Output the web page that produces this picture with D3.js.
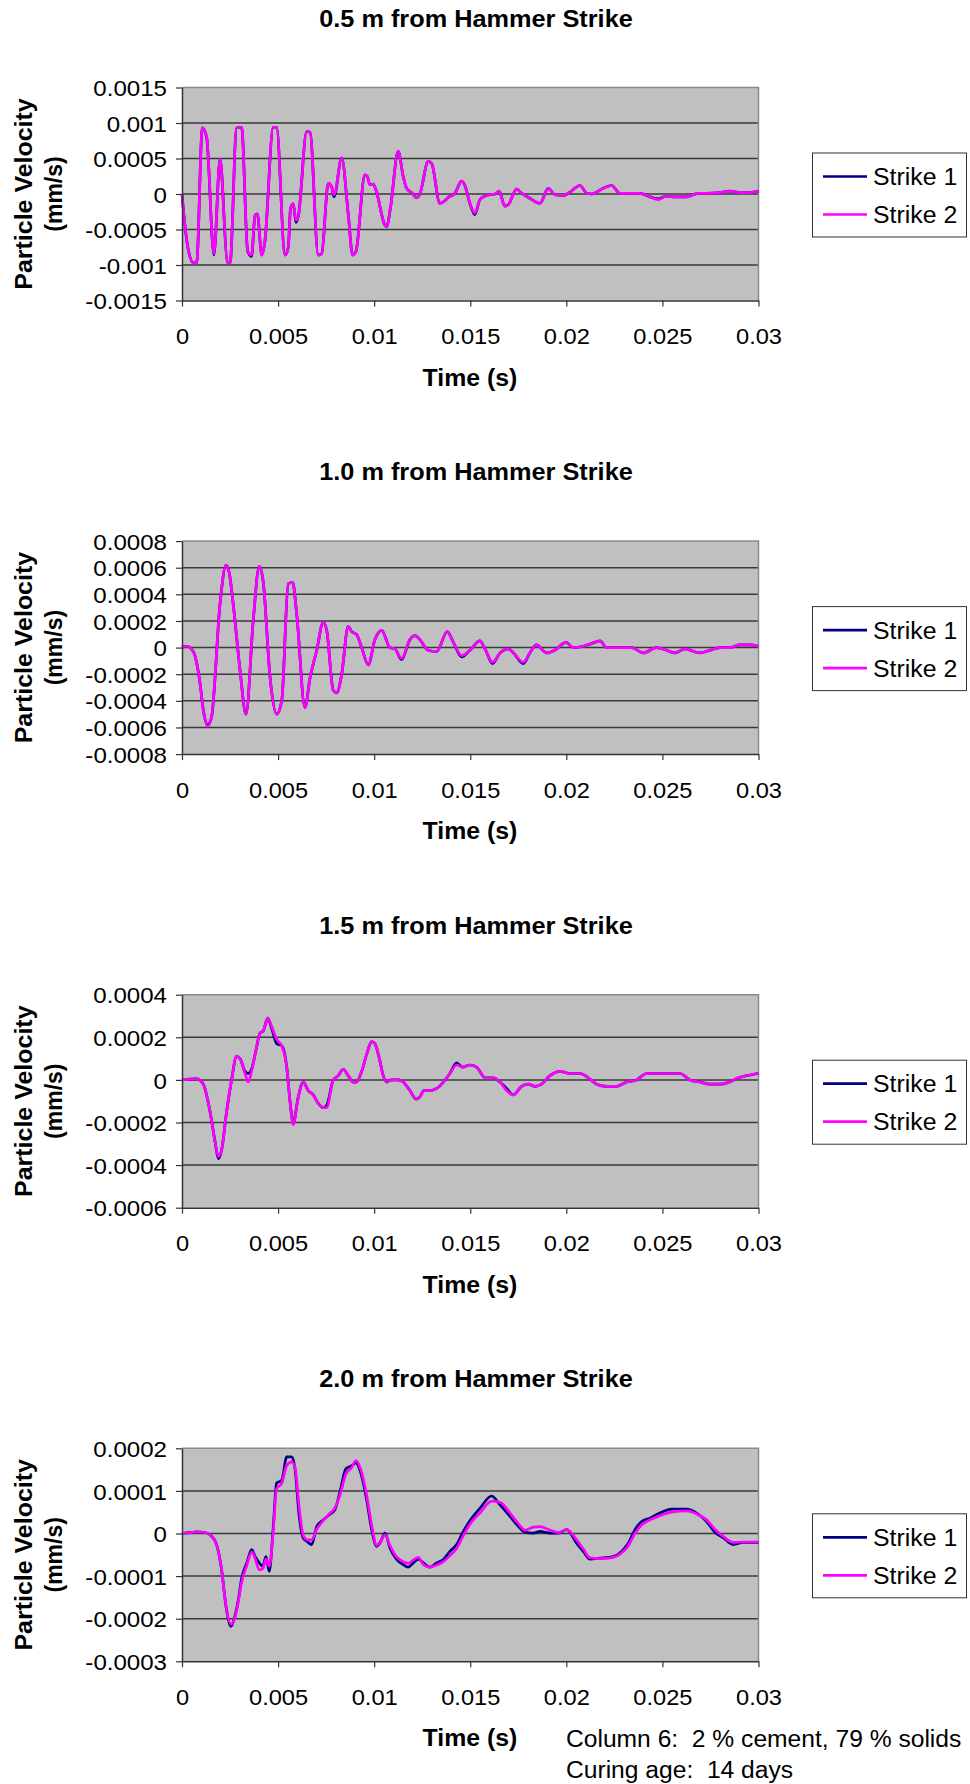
<!DOCTYPE html>
<html>
<head>
<meta charset="utf-8">
<script src="https://cdn.jsdelivr.net/npm/d3@7"></script>
<style>
  body { margin: 0; background: #fff; }
  svg { display: block; font-family: "Liberation Sans", Arial, sans-serif; }
</style>
</head>
<body>
<div id="graphic"></div>
<script>
// time values are in ms, velocities in 1e-5 mm/s
var titles = ["0.5 m from Hammer Strike", "1.0 m from Hammer Strike", "1.5 m from Hammer Strike", "2.0 m from Hammer Strike"];
var seriesNames = ["Strike 1", "Strike 2"];
var seriesColors = ["#000080", "#ff00ff"];

var xTicks = [0, 0.005, 0.01, 0.015, 0.02, 0.025, 0.03];
var xTickLabels = ["0", "0.005", "0.01", "0.015", "0.02", "0.025", "0.03"];

var yTicks05 = [0.0015, 0.001, 0.0005, 0, -0.0005, -0.001, -0.0015];
var yLabels05 = ["0.0015", "0.001", "0.0005", "0", "-0.0005", "-0.001", "-0.0015"];
var yTicks10 = [0.0008, 0.0006, 0.0004, 0.0002, 0, -0.0002, -0.0004, -0.0006, -0.0008];
var yLabels10 = ["0.0008", "0.0006", "0.0004", "0.0002", "0", "-0.0002", "-0.0004", "-0.0006", "-0.0008"];
var yTicks15 = [0.0004, 0.0002, 0, -0.0002, -0.0004, -0.0006];
var yLabels15 = ["0.0004", "0.0002", "0", "-0.0002", "-0.0004", "-0.0006"];
var yTicks20 = [0.0002, 0.0001, 0, -0.0001, -0.0002, -0.0003];
var yLabels20 = ["0.0002", "0.0001", "0", "-0.0001", "-0.0002", "-0.0003"];

var time05 = [0, 0.16, 0.33, 0.6, 0.76, 1.06, 1.28, 1.66, 1.98, 2.36,
  2.5, 2.84, 3.1, 3.42, 3.62, 3.8, 3.92, 4.15, 4.3, 4.75,
  4.92, 5.36, 5.53, 5.65, 5.79, 5.93, 6.05, 6.49, 6.66, 7.09,
  7.27, 7.61, 7.79, 7.91, 8.31, 8.65, 8.88, 9.05, 9.52, 9.64,
  9.78, 9.95, 10.09, 10.56, 10.65, 10.85, 11.25, 11.51, 11.69, 11.95,
  12.2, 12.38, 12.81, 12.99, 13.42, 13.6, 13.85, 14.2, 14.55, 14.72,
  14.98, 15.24, 15.5, 15.77, 16.0, 16.3, 16.5, 16.8, 16.98, 17.41,
  17.67, 18.1, 18.63, 19.06, 19.4, 19.85, 20.1, 20.71, 21.06, 21.3,
  21.92, 22.35, 22.79, 23.3, 23.83, 24.35, 24.78, 25.2, 25.56, 26.25,
  26.86, 27.3, 28.0, 28.5, 29.03, 29.55, 30.0];
var strike1_05 = [0, -46, -79, -97, -97, 93, 80, -86, 49, -96,
  -97, 93, 94, -81, -88, -30, -28, -86, -70, 94,
  94, -86, -75, -20, -14, -40, -32, 88, 87, -86,
  -84, 15, 10, -4, 51, -28, -86, -81, 27, 25,
  13, 14, 6, -44, -46, -19, 60, 25, 8, 2,
  -5, 0, 46, 43, -13, -11, -5, 1, 18, 12,
  -13, -29, -8, -3, -1, 0, 4, -17, -15, 7,
  1, -6, -13, 8, -1, -2, 1, 12, 1, 0,
  8, 12, 1, 1, 1, -4, -7, -3, -4, -4,
  1, 1, 2, 4, 2, 2, 4];
var strike2_05 = [0, -46, -79, -97, -97, 93, 81, -84, 49, -96,
  -97, 93, 94, -81, -86, -30, -28, -86, -70, 94,
  94, -86, -75, -20, -14, -37, -32, 88, 87, -86,
  -84, 15, 10, -1, 51, -28, -86, -81, 27, 25,
  13, 14, 6, -44, -46, -19, 60, 25, 8, 2,
  -5, 0, 46, 43, -13, -11, -5, 1, 18, 12,
  -13, -27, -8, -3, -1, 0, 4, -17, -15, 7,
  1, -6, -13, 8, -1, -2, 1, 12, 1, 0,
  8, 12, 1, 1, 1, -4, -8, -3, -4, -4,
  1, 1, 2, 4, 2, 2, 4];

var time10 = [0, 0.24, 0.59, 0.94, 1.11, 1.34, 1.54, 1.98, 2.29, 2.46,
  2.67, 3.02, 3.33, 3.71, 4.02, 4.23, 4.58, 4.93, 5.19, 5.53,
  5.76, 5.97, 6.4, 6.66, 7.01, 7.35, 7.53, 7.87, 8.05, 8.31,
  8.65, 8.83, 9.08, 9.35, 9.69, 10.04, 10.39, 10.82, 11.08, 11.43,
  11.86, 12.12, 12.38, 12.81, 13.25, 13.8, 14.12, 14.55, 14.98, 15.5,
  15.77, 16.16, 16.55, 16.98, 17.25, 17.76, 18.1, 18.45, 18.97, 19.4,
  19.98, 20.36, 20.88, 21.3, 21.75, 22.1, 22.79, 23.4, 24.0, 24.7,
  25.22, 25.65, 26.17, 26.95, 27.47, 27.99, 28.5, 29.03, 29.55, 30.0];
var strike1_10 = [0, 1, -3, -27, -47, -58, -52, 33, 62, 56,
  32, -17, -50, 21, 61, 49, -22, -50, -40, 48,
  49, 25, -45, -23, -2, 19, 13, -32, -34, -20,
  16, 12, 10, 0, -13, 6, 13, 0, -1, -9,
  6, 9, 6, -2, -3, 12, 4, -7, -2, 5,
  -1, -12, -4, -1, -4, -12, -4, 2, -4, -2,
  4, 0, 1, 3, 5, 0, 0, 0, -4, 0,
  -2, -4, -1, -4, -2, 0, 0, 2, 2, 1];
var strike2_10 = [0, 1, -3, -27, -47, -59, -52, 33, 62, 56,
  32, -17, -50, 21, 61, 49, -22, -50, -40, 48,
  49, 25, -45, -23, -2, 19, 13, -32, -34, -20,
  16, 12, 10, 0, -13, 6, 13, 0, -1, -8,
  6, 9, 6, -2, -3, 12, 4, -6, -2, 5,
  -1, -11, -4, -1, -4, -11, -4, 2, -4, -2,
  4, 0, 1, 3, 5, 0, 0, 0, -4, 0,
  -2, -4, -1, -4, -2, 0, 0, 2, 2, 1];

var time15 = [0, 0.76, 1.11, 1.46, 1.72, 1.89, 2.06, 2.32, 2.58, 2.84,
  3.02, 3.28, 3.45, 3.62, 3.85, 4.06, 4.23, 4.46, 4.67, 4.93,
  5.19, 5.45, 5.62, 5.79, 6.05, 6.31, 6.57, 6.83, 7.09, 7.35,
  7.53, 7.87, 8.13, 8.39, 8.65, 8.91, 9.08, 9.35, 9.61, 9.87,
  10.04, 10.27, 10.47, 10.65, 10.91, 11.25, 11.51, 11.86, 12.18, 12.38,
  12.59, 12.9, 13.25, 13.6, 13.94, 14.29, 14.6, 14.98, 15.33, 15.77,
  16.2, 16.55, 16.89, 17.24, 17.67, 18.02, 18.37, 18.71, 19.15, 19.67,
  20.19, 20.71, 21.14, 21.58, 22.1, 22.62, 23.13, 23.66, 24.18, 24.61,
  25.05, 25.56, 25.91, 26.43, 26.95, 27.47, 28.08, 28.5, 28.95, 29.38, 30.0];
var strike1_15 = [0, 0.5, -2, -15, -29, -37, -33, -15, 0, 11,
  10, 4, 3, 5, 14, 22, 23, 29, 24, 17,
  16, 6, -10, -20, -8, -1, -5, -7, -11, -13,
  -12, 0, 2, 5, 2, -1, -1, 4, 12, 18,
  17, 10, 2, -1, 0, 0, -1, -5, -9, -8,
  -5, -5, -4, -1, 3, 8, 6, 7, 6, 1,
  1, -1, -4, -7, -3, -2, -3, -2, 2, 4,
  3, 3, 1, -2, -3, -3, -1, 0, 3, 3,
  3, 3, 3, 0, -1, -2, -2, -1, 1, 2, 3];
var strike2_15 = [0, 0.5, -2, -15, -29, -36, -33, -15, 0, 11,
  10, 3, -1, 4, 14, 22, 23, 29, 25, 19,
  16, 6, -10, -21, -8, -1, -5, -7, -11, -13,
  -13, 0, 2, 5, 2, -1, -1, 4, 12, 18,
  17, 10, 2, -1, 0, 0, -1, -5, -9, -8,
  -5, -5, -4, -1, 3, 7, 6, 7, 6, 1,
  1, -1, -5, -7, -3, -2, -3, -2, 2, 4,
  3, 3, 1, -2, -3, -3, -1, 0, 3, 3,
  3, 3, 3, 0, -1, -2, -2, -1, 1, 2, 3];

var time20 = [0, 0.42, 0.76, 1.11, 1.46, 1.8, 2.06, 2.29, 2.55, 2.77,
  2.93, 3.1, 3.37, 3.63, 3.8, 4.02, 4.2, 4.37, 4.54, 4.75,
  4.92, 5.19, 5.45, 5.71, 5.88, 6.1, 6.31, 6.52, 6.75, 7.01,
  7.35, 7.66, 7.96, 8.22, 8.53, 8.83, 9.05, 9.29, 9.61, 9.87,
  10.13, 10.34, 10.56, 10.82, 11.17, 11.51, 11.77, 12.04, 12.3, 12.56,
  12.9, 13.25, 13.6, 13.94, 14.29, 14.64, 14.98, 15.5, 16.11, 16.55,
  17.07, 17.5, 17.85, 18.28, 18.63, 19.15, 19.6, 20.02, 20.54, 20.88,
  21.23, 21.75, 22.44, 22.88, 23.22, 23.57, 23.92, 24.35, 24.87, 25.48,
  26.26, 26.78, 27.3, 27.73, 28.17, 28.68, 29.2, 30.0];
var strike1_20 = [0, 0.2, 0.4, 0.3, -0.3, -2.6, -8.5, -17.1, -21.8, -19.1,
  -15.6, -10.6, -6.9, -3.8, -5.4, -6.9, -7.7, -5.4, -8.9, 1.6,
  11.8, 12.5, 18, 18, 15.2, 4.0, -1.1, -1.9, -2.6, 1.6,
  3.2, 4.4, 5.6, 9.8, 15.2, 15.9, 16.6, 14.4, 7.9, 0.9,
  -3.0, -1.9, 0.1, -3.4, -6.1, -7.3, -7.9, -6.9, -6.0, -6.9,
  -7.9, -6.9, -6.1, -4.2, -2.6, 0.5, 3.0, 5.9, 8.8, 6.7,
  4.0, 1.7, 0.3, 0.1, 0.5, 0.1, 0.1, 0.9, -2.3, -4.2,
  -6.0, -5.8, -5.4, -4.2, -2.3, 0.9, 2.8, 3.6, 4.8, 5.7,
  5.7, 4.8, 2.8, 0.3, -1.0, -2.6, -2.1, -2.1];
var strike2_20 = [0, 0.2, 0.4, 0.3, -0.3, -2.6, -8.5, -17.1, -21.3, -19.5,
  -16.0, -11.5, -7.5, -4.3, -5.8, -8.5, -8.3, -6.0, -7.7, 0.5,
  10.5, 11.8, 16.0, 16.8, 15.5, 6.0, -0.5, -1.5, -1.5, 1.0,
  3.0, 4.6, 6.0, 9.0, 14.0, 15.5, 17.1, 15.2, 9.0, 2.0,
  -2.8, -1.8, -0.3, -2.8, -5.5, -6.6, -7.0, -6.2, -5.6, -7.3,
  -7.9, -7.4, -6.6, -5.2, -3.5, -0.5, 2.2, 4.8, 7.6, 7.3,
  4.8, 2.3, 0.8, 1.5, 1.6, 0.8, 0.2, 0.9, -1.5, -3.6,
  -5.7, -5.9, -5.6, -4.5, -2.9, 0.0, 2.0, 3.2, 4.2, 5.0,
  5.3, 4.6, 3.2, 1.0, -0.7, -2.1, -2.0, -2.0];

var notes = ["Column 6:  2 % cement, 79 % solids", "Curing age:  14 days"];

var width = 970;
var height = 1784;
var plotLeft = 182;
var plotRight = 758.5;
var plotHeight = 213;
var firstTop = 87.5;
var chartStep = 453.6;
var textStretch = 1.08;

var svg = d3.select("#graphic")
  .append("svg")
  .attr("width", width)
  .attr("height", height);

svg.append("rect")
  .attr("width", width)
  .attr("height", height)
  .attr("fill", "#fff");

// the scanned figure is a bit wider than the fonts, stretch texts to match
function widen(sel, k) {
  k = k || textStretch;
  sel.each(function() {
    var w = this.getComputedTextLength();
    d3.select(this)
      .attr("textLength", w * k)
      .attr("lengthAdjust", "spacingAndGlyphs");
  });
}

var charts = [
  {title: titles[0], time: time05, s1: strike1_05, s2: strike2_05, yTicks: yTicks05, yLabels: yLabels05},
  {title: titles[1], time: time10, s1: strike1_10, s2: strike2_10, yTicks: yTicks10, yLabels: yLabels10},
  {title: titles[2], time: time15, s1: strike1_15, s2: strike2_15, yTicks: yTicks15, yLabels: yLabels15},
  {title: titles[3], time: time20, s1: strike1_20, s2: strike2_20, yTicks: yTicks20, yLabels: yLabels20}
];

function toPoints(time, values) {
  return time.map(function(t, k) { return [t / 1000, values[k] * 1e-5]; });
}

function renderChart(c, i) {
  var top = firstTop + i * chartStep;
  var bottom = top + plotHeight;
  var midY = (top + bottom) / 2;

  var xScale = d3.scaleLinear().domain([0, 0.03]).range([plotLeft, plotRight]);
  var yScale = d3.scaleLinear().domain(d3.extent(c.yTicks)).range([bottom, top]);

  var g = svg.append("g");

  g.append("text")
    .attr("x", 476)
    .attr("y", top - 61)
    .attr("text-anchor", "middle")
    .attr("font-weight", "bold")
    .attr("font-size", 23)
    .text(c.title)
    .call(widen, 1.1);

  g.append("rect")
    .attr("x", plotLeft)
    .attr("y", top)
    .attr("width", plotRight - plotLeft)
    .attr("height", plotHeight)
    .attr("fill", "#c0c0c0");

  g.append("g")
    .selectAll("line")
    .data(c.yTicks.slice(1, -1))
    .join("line")
    .attr("x1", plotLeft)
    .attr("x2", plotRight)
    .attr("y1", d => yScale(d))
    .attr("y2", d => yScale(d))
    .attr("stroke", "#3a3a3a")
    .attr("stroke-width", 1.5);

  g.append("path")
    .attr("d", "M" + plotLeft + "," + top + "H" + plotRight + "V" + bottom)
    .attr("fill", "none")
    .attr("stroke", "#8a8a8a")
    .attr("stroke-width", 1.5);

  var line = d3.line()
    .x(d => xScale(d[0]))
    .y(d => yScale(d[1]))
    .curve(d3.curveMonotoneX);

  [c.s1, c.s2].forEach(function(values, k) {
    g.append("path")
      .datum(toPoints(c.time, values))
      .attr("fill", "none")
      .attr("stroke", seriesColors[k])
      .attr("stroke-width", 2.7)
      .attr("stroke-linejoin", "round")
      .attr("d", line);
  });

  var yAxis = g.append("g")
    .attr("transform", "translate(" + plotLeft + ",0)")
    .call(d3.axisLeft(yScale)
      .tickValues(c.yTicks)
      .tickFormat((d, k) => c.yLabels[k])
      .tickSize(6)
      .tickSizeOuter(0)
      .tickPadding(9));

  var xAxis = g.append("g")
    .attr("transform", "translate(0," + bottom + ")")
    .call(d3.axisBottom(xScale)
      .tickValues(xTicks)
      .tickFormat((d, k) => xTickLabels[k])
      .tickSize(6)
      .tickSizeOuter(0));

  [yAxis, xAxis].forEach(function(ax) {
    ax.select(".domain").attr("stroke", "#333").attr("stroke-width", 1.5);
    ax.selectAll(".tick line").attr("stroke", "#333").attr("stroke-width", 1.2);
    ax.selectAll(".tick text")
      .attr("fill", "#000")
      .attr("font-size", 22.5)
      .attr("font-family", null);
  });
  yAxis.selectAll(".tick text").attr("dy", "0.36em").call(widen, 1.07);
  xAxis.selectAll(".tick text").attr("y", 43.5).attr("dy", null).call(widen, 1.05);

  g.append("text")
    .attr("x", 470)
    .attr("y", bottom + 85)
    .attr("text-anchor", "middle")
    .attr("font-weight", "bold")
    .attr("font-size", 23)
    .text("Time (s)")
    .call(widen);

  g.append("text")
    .attr("transform", "translate(24," + midY + ") rotate(-90)")
    .attr("dy", "0.35em")
    .attr("text-anchor", "middle")
    .attr("font-weight", "bold")
    .attr("font-size", 24)
    .text("Particle Velocity")
    .call(widen, 1.04);

  g.append("text")
    .attr("transform", "translate(54," + midY + ") rotate(-90)")
    .attr("dy", "0.35em")
    .attr("text-anchor", "middle")
    .attr("font-weight", "bold")
    .attr("font-size", 23)
    .text("(mm/s)");

  // legend
  var boxTop = midY + 1 - 42;
  var legend = g.append("g");
  legend.append("rect")
    .attr("x", 812.5)
    .attr("y", boxTop)
    .attr("width", 154)
    .attr("height", 84)
    .attr("fill", "#fff")
    .attr("stroke", "#333")
    .attr("stroke-width", 1);

  seriesNames.forEach(function(name, k) {
    var ly = boxTop + 23.5 + k * 38;
    legend.append("line")
      .attr("x1", 823)
      .attr("x2", 867)
      .attr("y1", ly)
      .attr("y2", ly)
      .attr("stroke", seriesColors[k])
      .attr("stroke-width", 2.7);
    legend.append("text")
      .attr("x", 873)
      .attr("y", ly + 8.5)
      .attr("font-size", 23)
      .text(name)
      .call(widen);
  });
}

charts.forEach(renderChart);

svg.append("g")
  .selectAll("text")
  .data(notes)
  .join("text")
  .attr("x", 566)
  .attr("y", (d, k) => 1747 + k * 31)
  .attr("font-size", 23)
  .style("white-space", "pre")
  .text(d => d)
  .call(widen, 1.07);
</script>
</body>
</html>
